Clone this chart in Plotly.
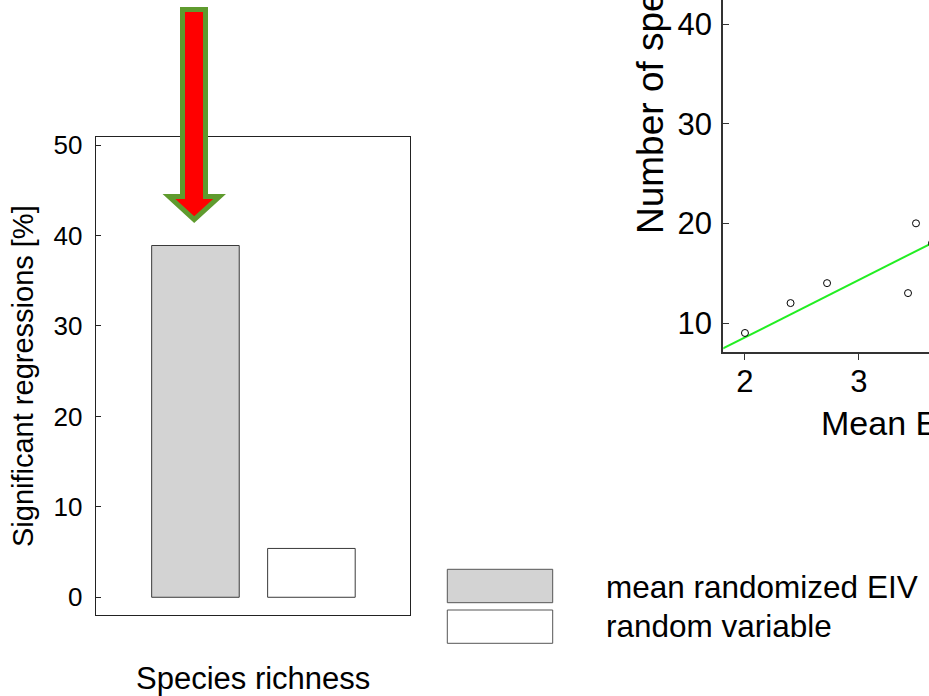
import plotly.graph_objects as go

# ---------------- data ----------------
categories = ["mean randomized EIV", "random variable"]
sig_pct = [38.9, 5.4]
bar_colors = ["#d3d3d3", "#ffffff"]
left_yticks = [0, 10, 20, 30, 40, 50]

eiv_x = [2.0, 2.4, 2.72, 3.43, 3.5, 3.64]
species_n = [9, 12, 14, 13, 20, 18]
fit_x = [1.8, 3.7]
fit_y = [7.40, 18.37]
right_xticks = [2, 3, 4, 5]
right_yticks = [10, 20, 30, 40]

W, H = 929, 696
FONT = "Liberation Sans, Arial, Helvetica, sans-serif"


def px(x):
    return x / W


def py(y):
    return 1 - y / H


fig = go.Figure()

# left panel bars
fig.add_trace(go.Bar(
    x=categories, y=sig_pct,
    marker=dict(color=bar_colors, line=dict(color="#3a3a3a", width=1)),
    width=0.755, xaxis="x", yaxis="y", showlegend=False, hoverinfo="skip",
))

# right panel scatter + regression
fig.add_trace(go.Scatter(
    x=fit_x, y=fit_y, mode="lines",
    line=dict(color="#22ee22", width=2),
    xaxis="x2", yaxis="y2", showlegend=False, hoverinfo="skip",
))
fig.add_trace(go.Scatter(
    x=eiv_x, y=species_n, mode="markers",
    marker=dict(symbol="circle-open", size=7, color="black", line=dict(width=1)),
    xaxis="x2", yaxis="y2", showlegend=False, hoverinfo="skip",
))

fig.update_layout(
    width=W, height=H,
    margin=dict(l=0, r=0, t=0, b=0, autoexpand=False),
    paper_bgcolor="white", plot_bgcolor="white",
    font=dict(family=FONT, color="black"),
    xaxis=dict(
        domain=[px(95.7), px(410)], range=[-0.86, 1.85], type="category",
        categoryorder="array", categoryarray=categories,
        showline=True, mirror=True, linecolor="#222", linewidth=1,
        showticklabels=False, ticks="", showgrid=False, zeroline=False,
        anchor="y", automargin=False,
    ),
    yaxis=dict(
        domain=[py(615), py(137)], range=[-1.96, 50.9],
        tickvals=left_yticks, ticks="inside", ticklen=5, tickcolor="#222",
        showline=True, mirror=True, linecolor="#222", linewidth=1,
        tickfont=dict(size=26, family=FONT), ticklabelstandoff=7,
        showgrid=False, zeroline=False, anchor="x", automargin=False,
    ),
    xaxis2=dict(
        domain=[px(723.3), 1.0], range=[1.81, 3.614],
        tickvals=right_xticks, ticks="outside", ticklen=6, tickcolor="#333",
        showline=True, linecolor="#333", linewidth=2,
        tickfont=dict(size=31, family=FONT), ticklabelstandoff=-6,
        showgrid=False, zeroline=False, anchor="y2", automargin=False,
    ),
    yaxis2=dict(
        domain=[py(352.3), 1.0], range=[7.06, 42.41],
        tickvals=right_yticks, ticks="inside", ticklen=6, tickcolor="#333",
        showline=True, linecolor="#333", linewidth=2,
        tickfont=dict(size=31, family=FONT), ticklabelstandoff=3,
        showgrid=False, zeroline=False, anchor="x2", automargin=False,
    ),
)

# arrow (decoration) in paper pixels
pts = dict(a=px(182.5), b=px(205.5), t=py(9.5), h=py(196.5), c=px(219.5),
           tipx=px(194.2), tip=py(219.5), d=px(169))
path = "M {a} {t} L {b} {t} L {b} {h} L {c} {h} L {tipx} {tip} L {d} {h} L {a} {h} Z".format(**pts)
fig.add_shape(type="path", path=path, xref="paper", yref="paper",
              fillcolor="#ff0000", line=dict(color="#5f9b2e", width=5), layer="above")

# legend boxes
fig.add_shape(type="rect", xref="paper", yref="paper",
              x0=px(447.3), x1=px(552.7), y0=py(602.7), y1=py(569.3),
              fillcolor=bar_colors[0], line=dict(color="#555", width=1))
fig.add_shape(type="rect", xref="paper", yref="paper",
              x0=px(447.3), x1=px(552.7), y0=py(643.3), y1=py(610),
              fillcolor=bar_colors[1], line=dict(color="#555", width=1))

annos = [
    dict(text=categories[0], x=px(604), y=py(586.5), xanchor="left", yanchor="middle",
         font=dict(size=31.5)),
    dict(text=categories[1], x=px(604), y=py(625.5), xanchor="left", yanchor="middle",
         font=dict(size=31.5)),
    dict(text="Species richness", x=px(252.5), y=py(678), xanchor="center", yanchor="middle",
         font=dict(size=31)),
    dict(text="Significant regressions [%]", x=px(23), y=py(376), xanchor="center",
         yanchor="middle", textangle=-90, font=dict(size=29)),
    dict(text="Number of species", x=px(651), y=py(236), xanchor="center",
         yanchor="bottom", textangle=-90, font=dict(size=37)),
    dict(text="Mean EIV", x=px(819), y=py(423), xanchor="left", yanchor="middle",
         font=dict(size=34)),
]
for a in annos:
    a.update(xref="paper", yref="paper", showarrow=False)
    a["font"]["family"] = FONT
    a["font"]["color"] = "black"
    fig.add_annotation(**a)

fig.write_html("out.html")
